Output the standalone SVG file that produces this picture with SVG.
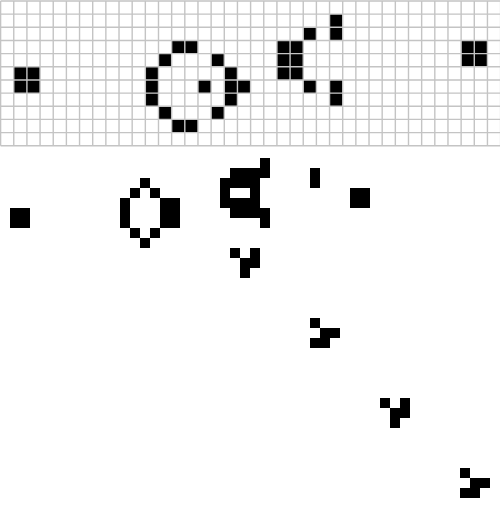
<svg xmlns="http://www.w3.org/2000/svg" width="500" height="509" viewBox="0 0 500 509">
<style>
.c{fill:#000}
.g{fill:none;stroke:#c4c4c4;stroke-width:1.4}
</style>
<rect width="500" height="509" fill="#fff"/>
<g id="grid-pattern" transform="translate(0.6,1) scale(13.158)">
<g id="cells-top" class="c">
<rect x="25" y="1" width="1" height="1"/>
<rect x="23" y="2" width="1" height="1"/><rect x="25" y="2" width="1" height="1"/>
<rect x="13" y="3" width="1" height="1"/><rect x="14" y="3" width="1" height="1"/><rect x="21" y="3" width="1" height="1"/><rect x="22" y="3" width="1" height="1"/><rect x="35" y="3" width="1" height="1"/><rect x="36" y="3" width="1" height="1"/>
<rect x="12" y="4" width="1" height="1"/><rect x="16" y="4" width="1" height="1"/><rect x="21" y="4" width="1" height="1"/><rect x="22" y="4" width="1" height="1"/><rect x="35" y="4" width="1" height="1"/><rect x="36" y="4" width="1" height="1"/>
<rect x="1" y="5" width="1" height="1"/><rect x="2" y="5" width="1" height="1"/><rect x="11" y="5" width="1" height="1"/><rect x="17" y="5" width="1" height="1"/><rect x="21" y="5" width="1" height="1"/><rect x="22" y="5" width="1" height="1"/>
<rect x="1" y="6" width="1" height="1"/><rect x="2" y="6" width="1" height="1"/><rect x="11" y="6" width="1" height="1"/><rect x="15" y="6" width="1" height="1"/><rect x="17" y="6" width="1" height="1"/><rect x="18" y="6" width="1" height="1"/><rect x="23" y="6" width="1" height="1"/><rect x="25" y="6" width="1" height="1"/>
<rect x="11" y="7" width="1" height="1"/><rect x="17" y="7" width="1" height="1"/><rect x="25" y="7" width="1" height="1"/>
<rect x="12" y="8" width="1" height="1"/><rect x="16" y="8" width="1" height="1"/>
<rect x="13" y="9" width="1" height="1"/><rect x="14" y="9" width="1" height="1"/>
</g>
<path class="g" vector-effect="non-scaling-stroke" d="M0 0V11M1 0V11M2 0V11M3 0V11M4 0V11M5 0V11M6 0V11M7 0V11M8 0V11M9 0V11M10 0V11M11 0V11M12 0V11M13 0V11M14 0V11M15 0V11M16 0V11M17 0V11M18 0V11M19 0V11M20 0V11M21 0V11M22 0V11M23 0V11M24 0V11M25 0V11M26 0V11M27 0V11M28 0V11M29 0V11M30 0V11M31 0V11M32 0V11M33 0V11M34 0V11M35 0V11M36 0V11M37 0V11M38 0V11M0 0H38M0 1H38M0 2H38M0 3H38M0 4H38M0 5H38M0 6H38M0 7H38M0 8H38M0 9H38M0 10H38M0 11H38"/>
</g>
<g id="simulation" class="c" transform="translate(10,168) scale(10)">
<g id="block-left"><rect x="0" y="4" width="2" height="2"/></g>
<g id="queen-bee">
<rect x="13" y="1" width="1" height="1"/>
<rect x="12" y="2" width="1" height="1"/><rect x="14" y="2" width="1" height="1"/>
<rect x="11" y="3" width="1" height="3"/>
<rect x="15" y="3" width="2" height="3"/>
<rect x="12" y="6" width="1" height="1"/><rect x="14" y="6" width="1" height="1"/>
<rect x="13" y="7" width="1" height="1"/>
</g>
<g id="shuttle">
<rect x="25" y="-1" width="1" height="2"/>
<rect x="22" y="0" width="3" height="1"/>
<rect x="21" y="1" width="4" height="1"/>
<rect x="21" y="2" width="1" height="1"/><rect x="24" y="2" width="1" height="1"/>
<rect x="21" y="3" width="4" height="1"/>
<rect x="22" y="4" width="3" height="1"/>
<rect x="25" y="4" width="1" height="2"/>
</g>
<g id="bar"><rect x="30" y="0" width="1" height="2"/></g>
<g id="block-right"><rect x="34" y="2" width="2" height="2"/></g>
<g id="glider-1">
<rect x="22" y="8" width="1" height="1"/><rect x="24" y="8" width="1" height="1"/><rect x="23" y="9" width="2" height="1"/><rect x="23" y="10" width="1" height="1"/>
</g>
<g id="glider-2">
<rect x="30" y="15" width="1" height="1"/><rect x="31" y="16" width="2" height="1"/><rect x="30" y="17" width="2" height="1"/>
</g>
<g id="glider-3">
<rect x="37" y="23" width="1" height="1"/><rect x="39" y="23" width="1" height="1"/><rect x="38" y="24" width="2" height="1"/><rect x="38" y="25" width="1" height="1"/>
</g>
<g id="glider-4">
<rect x="45" y="30" width="1" height="1"/><rect x="46" y="31" width="2" height="1"/><rect x="45" y="32" width="2" height="1"/>
</g>
</g>
</svg>
